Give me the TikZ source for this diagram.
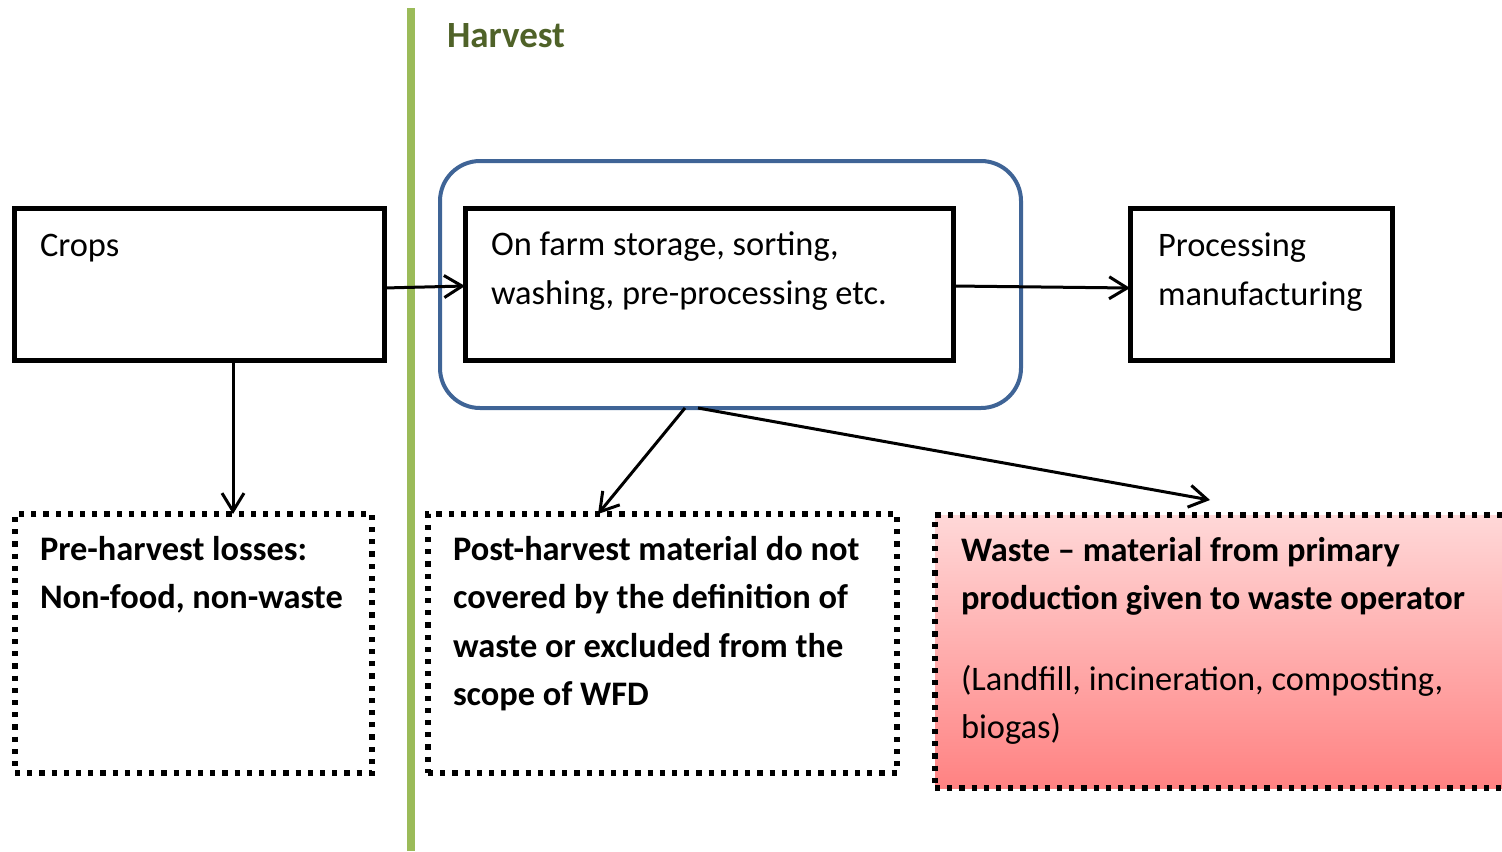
\documentclass[tikz,border=0pt]{standalone}
\usepackage{fontspec}
\setmainfont{Carlito}
\usetikzlibrary{arrows.meta,calc}
\definecolor{ChainInk}{gray}{0}
\definecolor{ChainLine}{HTML}{9BBB59}
\definecolor{ChainTitle}{HTML}{4F6228}
\definecolor{ChainStage}{HTML}{3F6496}
\definecolor{ChainWasteTop}{HTML}{FFD8D8}
\definecolor{ChainWasteBottom}{HTML}{FF8282}
\tikzset{
    chain/diagram/.style={
        font=\fontsize{17.2}{24.25}\selectfont,
        draw=ChainInk,
        text=ChainInk,
        line join=miter,
        every node/.style={inner sep=0pt, outer sep=0pt}
    },
    chain/box/.style={draw=ChainInk, line width=2.5pt},
    chain/loss/.style={
        draw=ChainInk, line width=2.6pt,
        dash pattern=on 2.6pt off 3.5pt
    },
    chain/stage/.style={
        draw=ChainStage, line width=2pt, rounded corners=20pt
    },
    chain/text/.style={anchor=north west, align=left,
        execute at begin node=\strut},
    chain/bold/.style={chain/text, font=\fontsize{17.2}{24.25}\selectfont\bfseries},
    chain/flow/.style={
        draw=ChainInk, line width=1.5pt,
        -{Straight Barb[length=9pt, width=11pt, line width=1.5pt]}
    },
    chain/divider/.style={draw=ChainLine, line width=4pt}
}
\begin{document}
\begin{tikzpicture}[chain/diagram, x=0.5pt, y=-0.5pt]
    \useasboundingbox (0,0) rectangle (1502,851);
    % harvest divider
    \draw[chain/divider] (411,8) -- (411,851);
    \node[anchor=west, text=ChainTitle,
          font=\fontsize{18.5}{22}\selectfont\bfseries] (harvest) at (447,36) {Harvest};

    % upper row
    \node[chain/stage, minimum width=290.5pt, minimum height=123.5pt] (stage) at (730.5,284.5) {};
    \node[chain/box, minimum width=185pt, minimum height=76pt] (crops) at (199,284) {};
    \node[chain/box, minimum width=244pt, minimum height=76pt] (onfarm) at (709,284) {};
    \node[chain/box, minimum width=131pt, minimum height=76pt] (processing) at (1261,284) {};
    \node[chain/text] at ($(crops.north west)+(26,15)$) {Crops};
    \node[chain/text] at ($(onfarm.north west)+(26,24)$) {On farm storage, sorting,\\washing, pre-processing etc.};
    \node[chain/text] at ($(processing.north west)+(28,25)$) {Processing\\manufacturing};

    % lower row
    \node[chain/loss, minimum width=178.5pt, minimum height=129.5pt] (preharvest) at (193.5,643.5) {};
    \node[chain/loss, minimum width=234.5pt, minimum height=129.5pt] (postharvest) at (662.5,643.5) {};
    \node[chain/loss, top color=ChainWasteTop, bottom color=ChainWasteBottom,
          minimum width=290pt, minimum height=136.5pt] (waste) at (1225,651.5) {};
    \node[chain/bold] at ($(preharvest.north west)+(25,22)$) {Pre-harvest losses:\\Non-food, non-waste};
    \node[chain/bold] at ($(postharvest.north west)+(25,22)$) {Post-harvest material do not\\covered by the definition of\\waste or excluded from the\\scope of WFD};
    \node[chain/bold] at ($(waste.north west)+(26,22)$) {Waste -- material from primary\\production given to waste operator};
    \node[chain/text] at ($(waste.north west)+(26,150)$) {(Landfill, incineration, composting,\\biogas)};

    % flows
    \draw[chain/flow] ([yshift=-2pt]crops.east) -- ([yshift=-1pt]onfarm.west);
    \draw[chain/flow] ([yshift=-1pt]onfarm.east) -- ([yshift=-2pt]processing.west);
    \draw[chain/flow] ([xshift=17pt]crops.south) -- ([xshift=19.75pt]preharvest.north);
    \draw[chain/flow] ([xshift=-22.75pt]stage.south) -- ([xshift=-32.25pt]postharvest.north);
    \draw[chain/flow] ([xshift=-16.25pt]stage.south) -- ([xshift=-7.5pt, yshift=7.5pt]waste.north);
\end{tikzpicture}
\end{document}
